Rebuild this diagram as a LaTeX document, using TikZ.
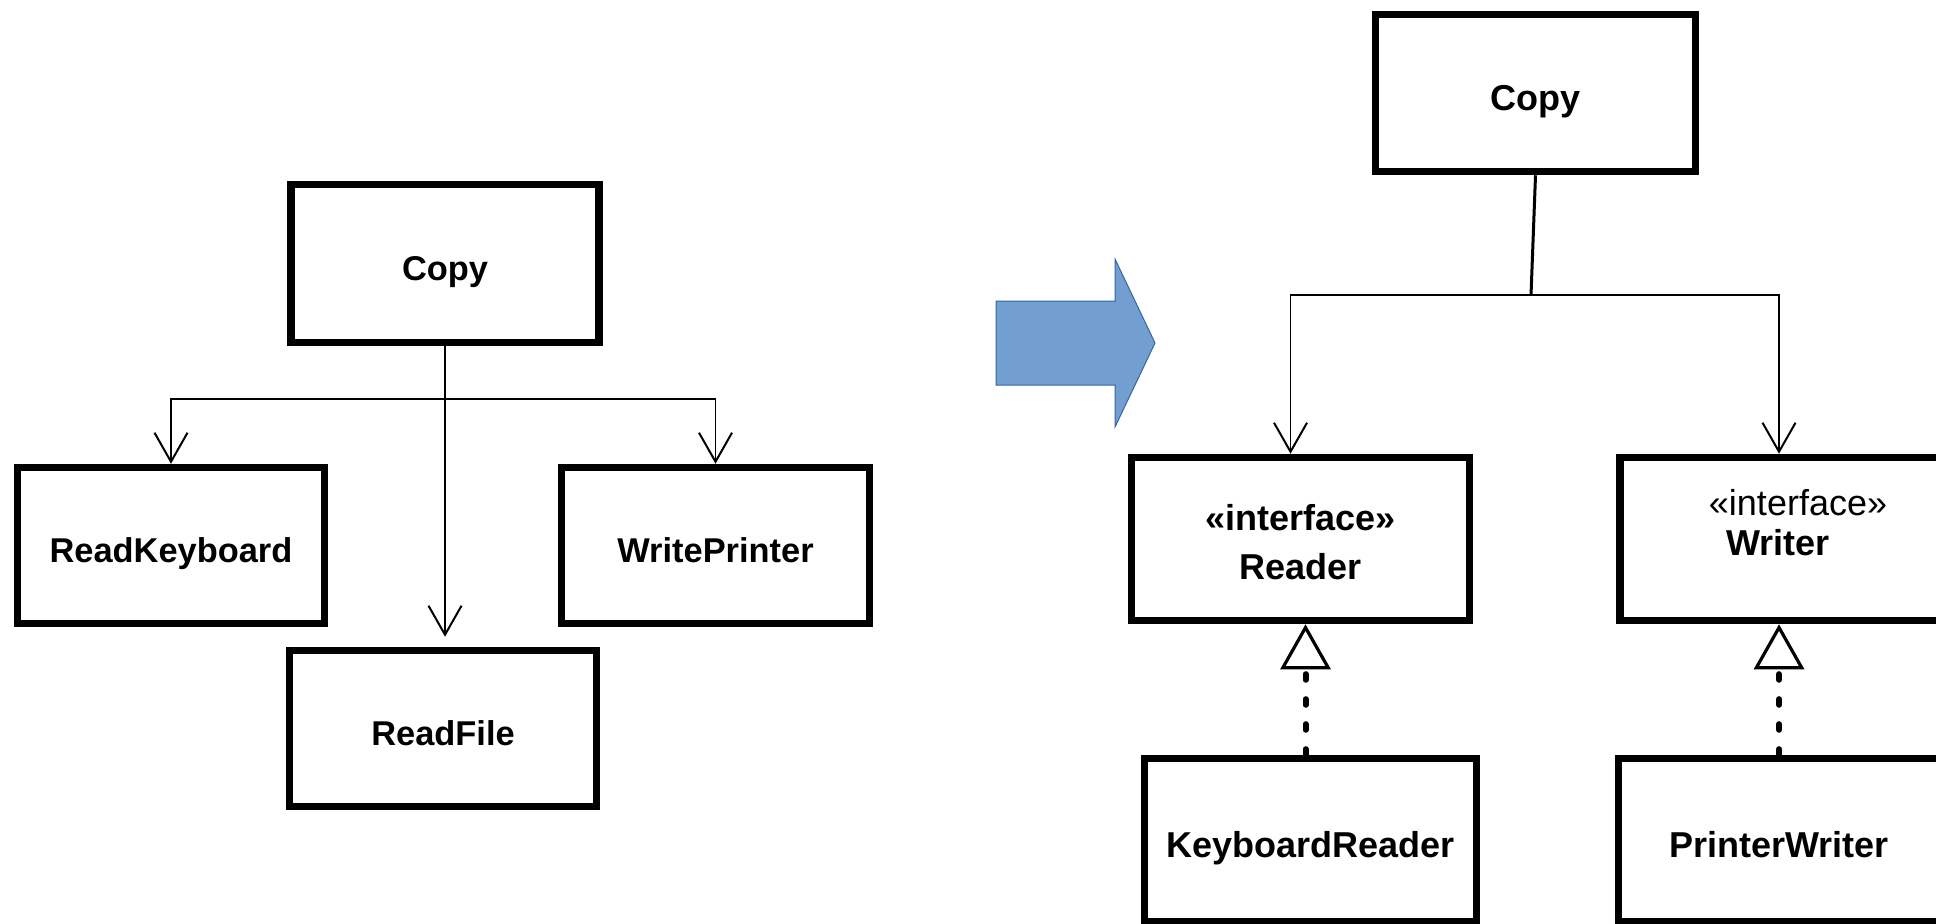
\documentclass[tikz,border=0pt]{standalone}
\usepackage{fontspec}
\setmainfont{Liberation Sans}
\usetikzlibrary{arrows.meta}
\definecolor{shiftblue}{HTML}{729FCF}
\definecolor{shiftedge}{HTML}{3465A4}

\begin{document}
\begin{tikzpicture}[x=0.5pt,y=-0.5pt]
\tikzset{font=\bfseries\fontsize{17.2}{20}\selectfont}
\tikzset{bigtext/.style={font=\bfseries\fontsize{18}{24.5}\selectfont}}
\tikzset{classbox/.style={draw, rectangle, line width=3.75pt, inner sep=0pt, text height=17pt, text depth=0pt}}
\tikzset{assoc/.style={draw, line width=0.6pt, -{Straight Barb[length=14.5pt,width=16.5pt,line width=1pt]}}}
\tikzset{realize/.style={draw, line width=3pt, line cap=round, dash pattern=on 2.8pt off 9.7pt, -{Triangle[open,fill=white,length=22.5pt,width=25pt,line width=1.6pt]}}}
\useasboundingbox (0,0) rectangle (1936,923);
\clip (0,0) rectangle (1936,923);

\node[classbox, minimum width=154pt, minimum height=79pt] (copyA) at (445,263.5) {Copy};
\node[classbox, minimum width=153.5pt, minimum height=78pt] (readKeyboard) at (171,545.5) {ReadKeyboard};
\node[classbox, minimum width=154pt, minimum height=78pt] (writePrinter) at (715.5,545.5) {WritePrinter};
\node[classbox, minimum width=153.5pt, minimum height=78pt] (readFile) at (443,728.5) {ReadFile};
\coordinate (forkA) at (445,399);
\draw[assoc, shorten >=5pt] (copyA.south) -- (copyA.south |- readFile.north);
\draw[assoc] (forkA) -| (readKeyboard.north);
\draw[assoc] (forkA) -| (writePrinter.north);

\filldraw[fill=shiftblue, draw=shiftedge, line width=0.5pt] (996,301) -- (1115,301) -- (1115,259) -- (1155,343) -- (1115,427) -- (1115,385) -- (996,385) -- cycle;

\node[classbox, bigtext, minimum width=160pt, minimum height=78.5pt] (copyB) at (1535.5,93) {Copy};
\node[classbox, minimum width=169pt, minimum height=81.5pt] (reader) at (1300.5,539) {};
\node[bigtext] (readerTag) at (1300.5,518) {«interface»};
\node[bigtext] (readerName) at (1300.5,567) {Reader};
\node[classbox, minimum width=169pt, minimum height=81.5pt] (writer) at (1789,539) {};
\node[font=\fontsize{18}{20}\selectfont] (writerTag) at (1798,503) {«interface»};
\node[bigtext] (writerName) at (1778,543) {Writer};
\node[classbox, bigtext, minimum width=166pt, minimum height=81.5pt] (keyboardReader) at (1310.5,840) {KeyboardReader};
\node[classbox, bigtext, minimum width=160.5pt, minimum height=81.5pt] (printerWriter) at (1779,840) {PrinterWriter};
\coordinate (forkB) at (1531,295);
\draw[line width=1.5pt] (copyB.south) -- (forkB);
\draw[assoc] (forkB) -| ([xshift=-5pt]reader.north);
\draw[assoc] (forkB) -| ([xshift=-5pt]writer.north);
\draw[realize] ([xshift=2.5pt]reader.south |- keyboardReader.north) -- ([xshift=2.5pt]reader.south);
\draw[realize] (printerWriter.north) -- (printerWriter.north |- writer.south);
\end{tikzpicture}
\end{document}
